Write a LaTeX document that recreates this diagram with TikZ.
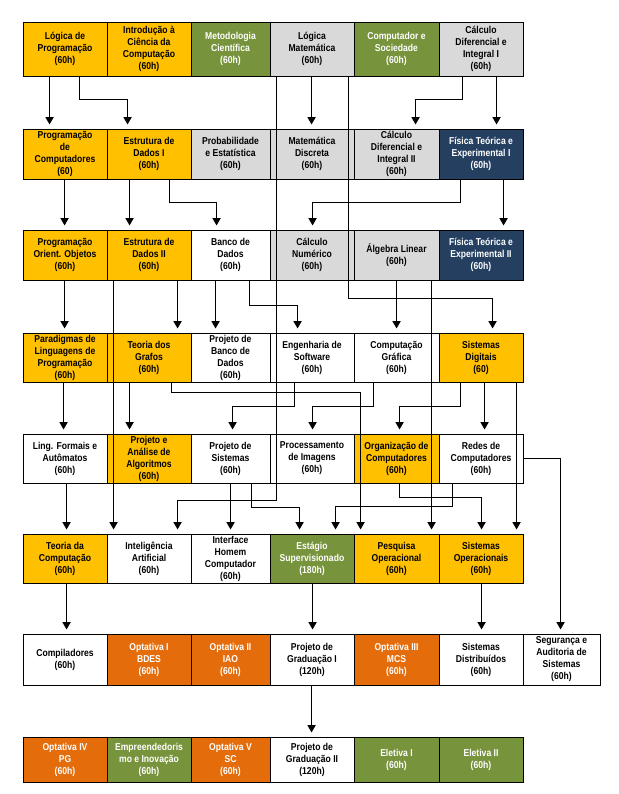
\documentclass[tikz,border=0pt]{standalone}
\usepackage{fontspec}
\setmainfont{Liberation Sans}[FakeStretch=0.86]
\usetikzlibrary{arrows.meta}
\definecolor{cyel}{HTML}{FFC000}
\definecolor{cgrn}{HTML}{77933C}
\definecolor{cgry}{HTML}{D9D9D9}
\definecolor{cnav}{HTML}{243F60}
\definecolor{corg}{HTML}{E46C0A}
\newcommand\course[7]{%
  \node[cell,#6,minimum width={(#3)-(#2)},minimum height={(#5)-(#4)}] (#1) at ({((#2)+(#3))/2},{((#4)+(#5))/2}) {#7};}
\begin{document}
\begin{tikzpicture}[x=1pt,y=-1pt,
  cell/.style={draw=black,line width=0.9pt,inner sep=0pt,align=center,
    font=\bfseries\fontsize{10}{12}\selectfont,text=black},
  yel/.style={fill=cyel},
  grn/.style={fill=cgrn,text=white},
  gry/.style={fill=cgry},
  nav/.style={fill=cnav,text=white},
  org/.style={fill=corg,text=white},
  wht/.style={fill=white},
  conn/.style={line width=1.8pt,-{Triangle[width=8pt,length=7.5pt]},shorten >=4pt}]
\useasboundingbox (0,0) rectangle (618,794);
% Row 1
\course{lp}{23}{107}{22}{76}{yel}{Lógica de\\Programação\\(60h)}
\course{icc}{107}{191}{22}{76}{yel}{Introdução à\\Ciência da\\Computação\\(60h)}
\course{mc}{191}{270}{22}{76}{grn}{Metodologia\\Científica\\(60h)}
\course{lm}{270}{354}{22}{76}{gry}{Lógica\\Matemática\\(60h)}
\course{cs}{354}{439}{22}{76}{grn}{Computador e\\Sociedade\\(60h)}
\course{cdia}{439}{523}{22}{76}{gry}{Cálculo\\Diferencial e\\Integral I\\(60h)}
% Row 2
\course{pc}{23}{107}{129}{179}{yel}{Programação\\de\\Computadores\\(60)}
\course{eda}{107}{191}{129}{179}{yel}{Estrutura de\\Dados I\\(60h)}
\course{pe}{191}{270}{129}{179}{gry}{Probabilidade\\e Estatística\\(60h)}
\course{md}{270}{354}{129}{179}{gry}{Matemática\\Discreta\\(60h)}
\course{cdib}{354}{439}{129}{179}{gry}{Cálculo\\Diferencial e\\Integral II\\(60h)}
\course{ftea}{439}{523}{129}{179}{nav}{Física Teórica e\\Experimental I\\(60h)}
% Row 3
\course{poo}{23}{107}{230}{280}{yel}{Programação\\Orient. Objetos\\(60h)}
\course{edb}{107}{191}{230}{280}{yel}{Estrutura de\\Dados II\\(60h)}
\course{bd}{191}{270}{230}{280}{wht}{Banco de\\Dados\\(60h)}
\course{cn}{270}{354}{230}{280}{gry}{Cálculo\\Numérico\\(60h)}
\course{al}{354}{439}{230}{280}{gry}{Álgebra Linear\\(60h)}
\course{fteb}{439}{523}{230}{280}{nav}{Física Teórica e\\Experimental II\\(60h)}
% Row 4
\course{plp}{23}{107}{333}{382}{yel}{Paradigmas de\\Linguagens de\\Programação\\(60h)}
\course{tg}{107}{191}{333}{382}{yel}{Teoria dos\\Grafos\\(60h)}
\course{pbd}{191}{270}{333}{382}{wht}{Projeto de\\Banco de\\Dados\\(60h)}
\course{es}{270}{354}{333}{382}{wht}{Engenharia de\\Software\\(60h)}
\course{cg}{354}{439}{333}{382}{wht}{Computação\\Gráfica\\(60h)}
\course{sd}{439}{523}{333}{382}{yel}{Sistemas\\Digitais\\(60)}
% Row 5
\course{lfa}{23}{107}{434}{483}{wht}{Ling. Formais e\\Autômatos\\(60h)}
\course{paa}{107}{191}{434}{483}{yel}{Projeto e\\Análise de\\Algoritmos\\(60h)}
\course{ps}{191}{270}{434}{483}{wht}{Projeto de\\Sistemas\\(60h)}
\course{pi}{270}{354}{434}{483}{wht}{Processamento\\de Imagens\\(60h)}
\course{oc}{354}{439}{434}{483}{yel}{Organização de\\Computadores\\(60h)}
\course{rc}{439}{523}{434}{483}{wht}{Redes de\\Computadores\\(60h)}
% Row 6
\course{tc}{23}{107}{534}{583}{yel}{Teoria da\\Computação\\(60h)}
\course{ia}{107}{191}{534}{583}{wht}{Inteligência\\Artificial\\(60h)}
\course{ihc}{191}{270}{534}{583}{wht}{Interface\\Homem\\Computador\\(60h)}
\course{esup}{270}{354}{534}{583}{grn}{Estágio\\Supervisionado\\(180h)}
\course{po}{354}{439}{534}{583}{yel}{Pesquisa\\Operacional\\(60h)}
\course{so}{439}{523}{534}{583}{yel}{Sistemas\\Operacionais\\(60h)}
% Row 7
\course{comp}{23}{107}{634}{685}{wht}{Compiladores\\(60h)}
\course{opa}{107}{191}{634}{685}{org}{Optativa I\\BDES\\(60h)}
\course{opb}{191}{270}{634}{685}{org}{Optativa II\\IAO\\(60h)}
\course{pga}{270}{354}{634}{685}{wht}{Projeto de\\Graduação I\\(120h)}
\course{opc}{354}{439}{634}{685}{org}{Optativa III\\MCS\\(60h)}
\course{sdist}{439}{523}{634}{685}{wht}{Sistemas\\Distribuídos\\(60h)}
\course{sas}{523}{600}{634}{685}{wht}{Segurança e\\Auditoria de\\Sistemas\\(60h)}
% Row 8
\course{opd}{23}{107}{737}{782}{org}{Optativa IV\\PG\\(60h)}
\course{emp}{107}{191}{737}{782}{grn}{Empreendedoris\\mo e Inovação\\(60h)}
\course{ope}{191}{270}{737}{782}{org}{Optativa V\\SC\\(60h)}
\course{pgb}{270}{354}{737}{782}{wht}{Projeto de\\Graduação II\\(120h)}
\course{ela}{354}{439}{737}{782}{grn}{Eletiva I\\(60h)}
\course{elb}{439}{523}{737}{782}{grn}{Eletiva II\\(60h)}
% Connectors row 1 -> 2
\draw[conn] ([xshift=27pt]lp.south west) -- ([xshift=27pt]pc.north west);
\draw[conn] ([xshift=57pt]lp.south west) -- ++(0,-23pt) -| ([xshift=21pt]eda.north west);
\draw[conn] ([xshift=42pt]lm.south west) -- ([xshift=42pt]md.north west);
\draw[conn] ([xshift=7pt]lm.south west) -- ++(0,-424pt) -| ([xshift=71pt]ia.north west);
\draw[conn] ([xshift=79pt]lm.south west) -- ++(0,-222pt) -| ([xshift=54pt]sd.north west);
\draw[conn] ([xshift=24pt]cdia.south west) -- ++(0,-23pt) -| ([xshift=62pt]cdib.north west);
\draw[conn] ([xshift=58pt]cdia.south west) -- ([xshift=58pt]ftea.north west);
% row 2 -> 3
\draw[conn] ([xshift=42pt]pc.south west) -- ([xshift=42pt]poo.north west);
\draw[conn] ([xshift=23pt]eda.south west) -- ([xshift=23pt]edb.north west);
\draw[conn] ([xshift=63pt]eda.south west) -- ++(0,-23pt) -| ([xshift=26pt]bd.north west);
\draw[conn] ([xshift=22pt]ftea.south west) -- ++(0,-23pt) -| ([xshift=43pt]cn.north west);
\draw[conn] ([xshift=65pt]ftea.south west) -- ([xshift=65pt]fteb.north west);
% row 3 -> 4
\draw[conn] ([xshift=42pt]poo.south west) -- ([xshift=42pt]plp.north west);
\draw[conn] ([xshift=7pt]edb.south west) -- ([xshift=7pt]ia.north west);
\draw[conn] ([xshift=71pt]edb.south west) -- ([xshift=71pt]tg.north west);
\draw[conn] ([xshift=25pt]bd.south west) -- ([xshift=25pt]pbd.north west);
\draw[conn] ([xshift=59pt]bd.south west) -- ++(0,-25pt) -| ([xshift=28pt]es.north west);
\draw[conn] ([xshift=43pt]al.south west) -- ([xshift=43pt]cg.north west);
\draw[conn] ([xshift=78pt]al.south west) -- ([xshift=78pt]po.north west);
% row 4 -> 5
\draw[conn] ([xshift=41pt]plp.south west) -- ([xshift=41pt]lfa.north west);
\draw[conn] ([xshift=23pt]tg.south west) -- ([xshift=23pt]paa.north west);
\draw[conn] ([xshift=65pt]tg.south west) -- ++(0,-10pt) -| ([xshift=7pt]po.north west);
\draw[conn] ([xshift=25pt]es.south west) -- ++(0,-24pt) -| ([xshift=42pt]ps.north west);
\draw[conn] ([xshift=20pt]cg.south west) -- ++(0,-24pt) -| ([xshift=43pt]pi.north west);
\draw[conn] ([xshift=22pt]sd.south west) -- ++(0,-24pt) -| ([xshift=46pt]oc.north west);
\draw[conn] ([xshift=46pt]sd.south west) -- ([xshift=46pt]rc.north west);
\draw[conn] ([xshift=78pt]sd.south west) -- ([xshift=78pt]so.north west);
% row 5 -> 6
\draw[conn] ([xshift=44pt]lfa.south west) -- ([xshift=44pt]tc.north west);
\draw[conn] ([xshift=40pt]ps.south west) -- ([xshift=40pt]ihc.north west);
\draw[conn] ([xshift=61pt]ps.south west) -- ++(0,-24pt) -| ([xshift=30pt]esup.north west);
\draw[conn] ([xshift=46pt]oc.south west) -- ++(0,-14pt) -| ([xshift=43pt]so.north west);
\draw[conn] ([xshift=14pt]rc.south west) -- ++(0,-23pt) -| ([xshift=66pt]esup.north west);
\draw[conn] (rc.east) -| ([xshift=38pt]sas.north west);
% row 6 -> 7
\draw[conn] ([xshift=44pt]tc.south west) -- ([xshift=44pt]comp.north west);
\draw[conn] ([xshift=43pt]esup.south west) -- ([xshift=43pt]pga.north west);
\draw[conn] ([xshift=43pt]so.south west) -- ([xshift=43pt]sdist.north west);
% row 7 -> 8
\draw[conn] ([xshift=42pt]pga.south west) -- ([xshift=42pt]pgb.north west);
\end{tikzpicture}
\end{document}
